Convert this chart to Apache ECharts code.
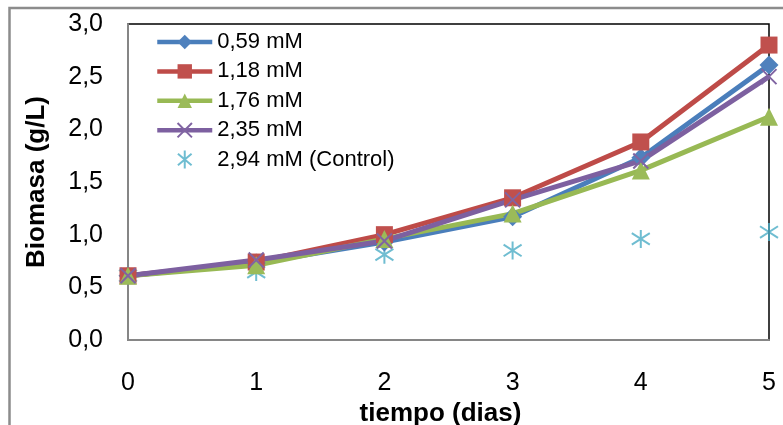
<!DOCTYPE html>
<html>
<head>
<meta charset="utf-8">
<script src="https://cdn.jsdelivr.net/npm/echarts@6/dist/echarts.min.js"></script>
<style>
  html, body { margin: 0; padding: 0; background: #fff; }
  #chart { width: 783px; height: 425px; }
</style>
</head>
<body>
<div id="chart"></div>
<script>
// Days of culture
const days = [0, 1, 2, 3, 4, 5];

// Biomass (g/L) per concentration
const names = ['0,59 mM', '1,18 mM', '1,76 mM', '2,35 mM', '2,94 mM (Control)'];
const biomasa059 = [0.61, 0.73, 0.93, 1.17, 1.73, 2.61];
const biomasa118 = [0.61, 0.74, 1.00, 1.35, 1.88, 2.80];
const biomasa176 = [0.61, 0.71, 0.96, 1.20, 1.61, 2.12];
const biomasa235 = [0.61, 0.76, 0.94, 1.33, 1.70, 2.50];
const biomasaControl = [0.61, 0.645, 0.81, 0.85, 0.96, 1.025];

const yTicks = { min: 0, max: 3, interval: 0.5 };
const xTicks = { min: 0, max: 5, interval: 1 };

const pairs = arr => days.map((d, i) => [d, arr[i]]);

const crossPath = 'path://M0,0L10,10M10,0L0,10';
const asteriskPath = 'path://M5,0L5,10M1.2,1.8L8.8,8.2M1.2,8.2L8.8,1.8';

function lineSeries(name, values, lineColor, markColor, symbol, size, stroked) {
  return {
    name: name,
    type: 'line',
    data: pairs(values),
    symbol: symbol,
    symbolSize: size,
    showAllSymbol: true,
    clip: false,
    lineStyle: { color: lineColor, width: 5 },
    itemStyle: stroked
      ? { color: markColor, borderColor: markColor, borderWidth: 2 }
      : { color: markColor, borderWidth: 0 },
    emphasis: { disabled: true }
  };
}

const chart = echarts.init(document.getElementById('chart'), null, { renderer: 'canvas' });

chart.setOption({
  animation: false,
  backgroundColor: '#ffffff',
  graphic: [{
    type: 'rect',
    shape: { x: 9.5, y: 8, width: 820, height: 460 },
    style: { fill: 'none', stroke: '#8c8c8c', lineWidth: 2.5 },
    silent: true
  }],
  grid: {
    left: 128, top: 24, right: 14, bottom: 85,
    outerBoundsMode: 'none',
    containLabel: false,
    show: true, borderColor: '#000', borderWidth: 1.5, backgroundColor: 'transparent'
  },
  legend: {
    orient: 'vertical',
    left: 155, top: 31, padding: 0,
    itemWidth: 55, itemHeight: 18, itemGap: 7.4,
    lineStyle: { width: 4.5 },
    textStyle: { fontFamily: 'Liberation Sans, Arial, sans-serif', fontSize: 22, color: '#000' },
    data: names
  },
  xAxis: {
    type: 'value',
    min: xTicks.min, max: xTicks.max, interval: xTicks.interval,
    axisLine: { show: true, onZero: false, lineStyle: { color: '#868686', width: 2 } },
    axisTick: { show: false },
    splitLine: { show: false },
    axisLabel: {
      margin: 31, color: '#000', fontSize: 25,
      fontFamily: 'Liberation Sans Narrow, Liberation Sans, Arial, sans-serif'
    },
    name: 'tiempo (dias)',
    nameLocation: 'middle',
    nameGap: 58,
    nameTextStyle: {
      color: '#000', fontSize: 26, fontWeight: 'bold',
      fontFamily: 'Liberation Sans Narrow, Liberation Sans, Arial, sans-serif',
      padding: [0, 16, 0, 0]
    }
  },
  yAxis: {
    type: 'value',
    min: yTicks.min, max: yTicks.max, interval: yTicks.interval,
    axisLine: { show: true, onZero: false, lineStyle: { color: '#868686', width: 2 } },
    axisTick: { show: false },
    splitLine: { show: false },
    axisLabel: {
      margin: 25, color: '#000', fontSize: 25,
      fontFamily: 'Liberation Sans, Arial, sans-serif',
      formatter: v => v.toFixed(1).replace('.', ',')
    },
    name: 'Biomasa (g/L)',
    nameLocation: 'middle',
    nameGap: 78,
    nameTextStyle: {
      color: '#000', fontSize: 26, fontWeight: 'bold',
      fontFamily: 'Liberation Sans, Arial, sans-serif'
    }
  },
  series: [
    lineSeries(names[0], biomasa059, '#4a7ebb', '#4f81bd', 'diamond', 19, false),
    lineSeries(names[1], biomasa118, '#be4b48', '#c0504d', 'rect', 17, false),
    lineSeries(names[2], biomasa176, '#98b954', '#9bbb59', 'triangle', 18, false),
    lineSeries(names[3], biomasa235, '#7d60a0', '#8064a2', crossPath, 15, true),
    {
      name: names[4],
      type: 'scatter',
      data: pairs(biomasaControl),
      symbol: asteriskPath,
      symbolSize: 18,
      clip: false,
      itemStyle: { color: '#4bacc6', borderColor: '#4bacc6', borderWidth: 2 },
      emphasis: { disabled: true }
    }
  ]
});
</script>
</body>
</html>
